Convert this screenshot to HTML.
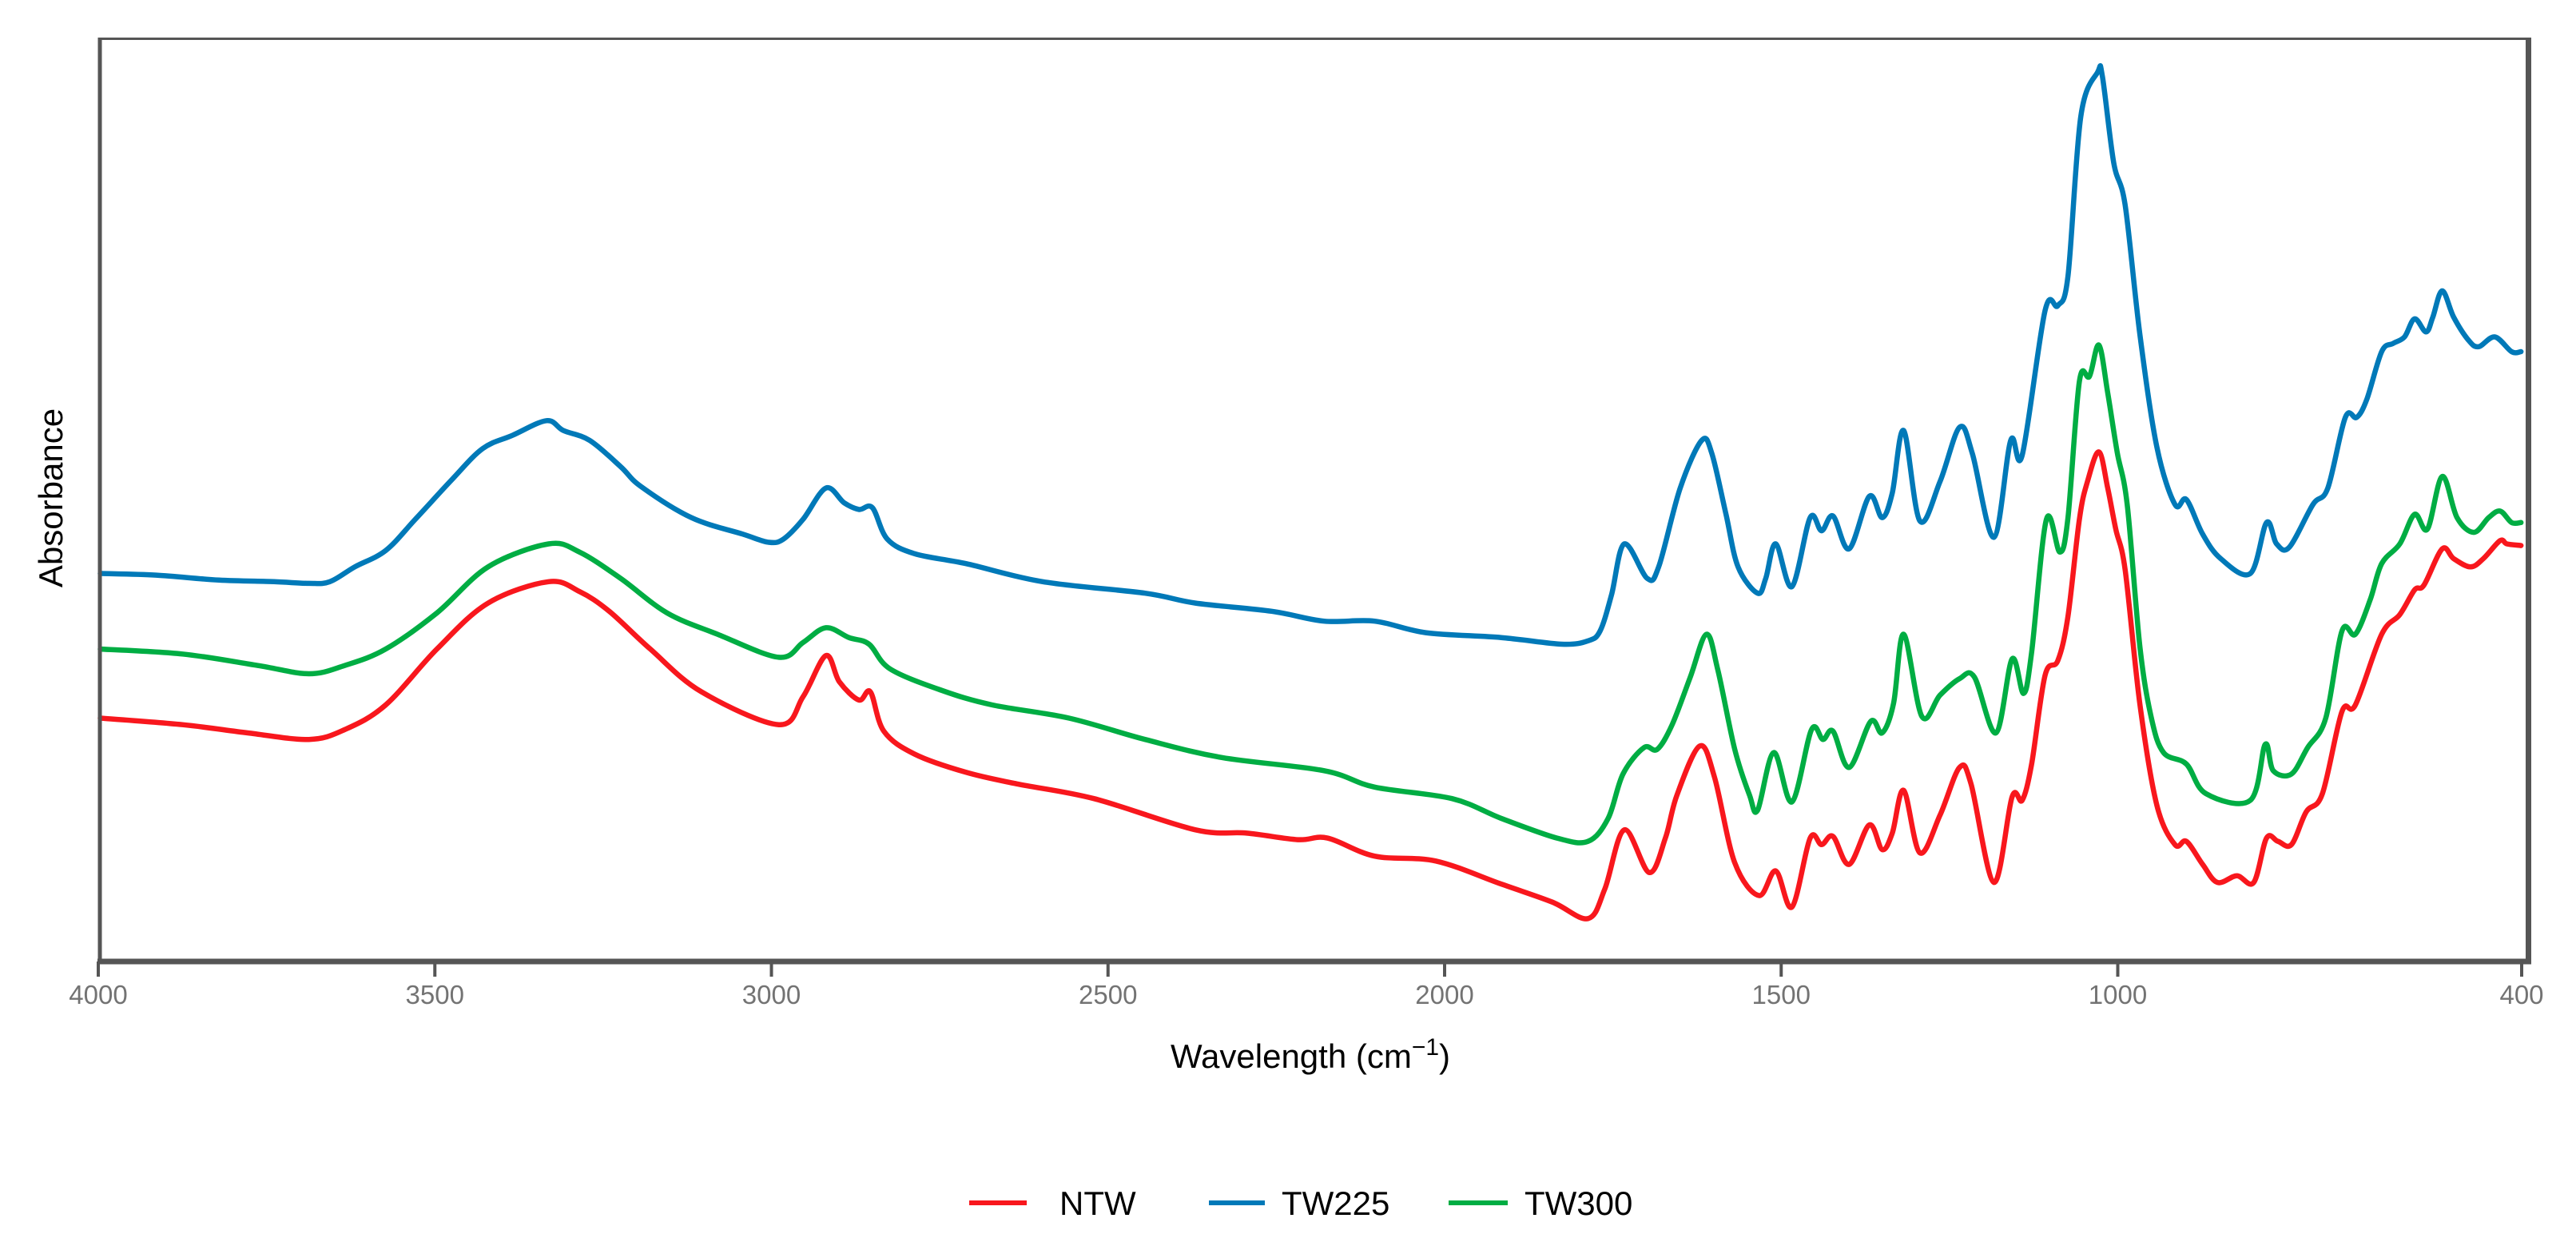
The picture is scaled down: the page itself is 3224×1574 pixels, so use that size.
<!DOCTYPE html>
<html>
<head>
<meta charset="utf-8">
<style>
html,body{margin:0;padding:0;background:#fff;}
svg{display:block;}
text{font-family:"Liberation Sans",Arial,sans-serif;}
</style>
</head>
<body>
<svg id="chart" width="3224" height="1574" viewBox="0 0 3224 1574" xmlns="http://www.w3.org/2000/svg">
  <rect x="0" y="0" width="3224" height="1574" fill="#ffffff"/>
  <g id="series"></g>
  <g id="axes"></g>
  <text x="1640" y="1336" font-size="42" text-anchor="middle" fill="#000">Wavelength (cm<tspan dy="-16" font-size="30">−1</tspan><tspan dy="16">)</tspan></text>
  <text x="0" y="0" font-size="42" text-anchor="middle" fill="#000" transform="translate(78,623) rotate(-90)">Absorbance</text>
  <g>
    <line x1="1213" y1="1505" x2="1285" y2="1505" stroke="#f8171d" stroke-width="6"/>
    <text x="1326" y="1520" font-size="42" fill="#000">NTW</text>
    <line x1="1513" y1="1505" x2="1583" y2="1505" stroke="#0079b8" stroke-width="6"/>
    <text x="1604" y="1520" font-size="42" fill="#000">TW225</text>
    <line x1="1813" y1="1505" x2="1887" y2="1505" stroke="#00ad43" stroke-width="6"/>
    <text x="1908" y="1520" font-size="42" fill="#000">TW300</text>
  </g>
</svg>
<script>
// ---- data ----
const xTicks = [4000, 3500, 3000, 2500, 2000, 1500, 1000, 400];

const tw225Wave = [3997,3914,3821,3739,3687,3656,3619,3573,3529,3475,3429,3385,3334,3309,3270,3224,3194,3119,3043,3004,2982,2953,2919,2892,2870,2850,2828,2787,2711,2597,2445,2370,2257,2179,2104,2028,1916,1826,1787,1769,1752,1733,1699,1682,1650,1618,1603,1582,1564,1535,1523,1508,1484,1457,1440,1423,1399,1369,1350,1335,1318,1294,1264,1235,1216,1184,1159,1142,1108,1089,1074,1055,1030,1023,1006,989,967,942,915,898,874,847,803,779,764,745,710,688,662,645,630,608,591,574,559,542,532,518,501,479,464,440,415,401];
const tw225Abs = [2.51,2.50,2.47,2.46,2.45,2.46,2.55,2.65,2.84,3.08,3.27,3.35,3.44,3.38,3.32,3.16,3.04,2.85,2.75,2.70,2.72,2.84,3.03,2.94,2.90,2.91,2.72,2.63,2.57,2.46,2.39,2.33,2.28,2.22,2.22,2.15,2.12,2.08,2.10,2.16,2.38,2.69,2.48,2.55,3.03,3.32,3.24,2.87,2.55,2.39,2.48,2.69,2.43,2.85,2.77,2.86,2.66,2.98,2.85,3.00,3.38,2.83,3.07,3.40,3.24,2.73,3.32,3.23,4.11,4.14,4.32,5.29,5.56,5.54,5.01,4.75,3.96,3.28,2.93,2.96,2.75,2.60,2.51,2.82,2.69,2.67,2.93,3.03,3.46,3.46,3.57,3.86,3.91,3.95,4.06,3.98,4.07,4.23,4.07,3.93,3.89,3.95,3.86,3.86];

const tw300Wave = [3997,3875,3763,3687,3634,3573,3497,3421,3331,3285,3224,3155,3080,2989,2953,2919,2885,2855,2824,2748,2672,2558,2445,2331,2179,2104,1989,1916,1833,1787,1757,1735,1704,1684,1662,1635,1611,1594,1569,1547,1535,1511,1484,1455,1438,1423,1399,1367,1350,1333,1318,1291,1264,1235,1213,1181,1157,1140,1128,1106,1086,1074,1057,1042,1028,1015,1001,986,967,950,932,898,869,803,781,769,742,718,691,667,647,625,608,581,559,540,518,496,471,449,432,415,401];
const tw300Abs = [2.05,2.02,1.95,1.90,1.95,2.05,2.27,2.55,2.69,2.64,2.48,2.27,2.14,2.00,2.09,2.18,2.12,2.08,1.93,1.80,1.71,1.63,1.50,1.39,1.31,1.21,1.14,1.02,0.90,0.88,1.02,1.29,1.45,1.44,1.59,1.88,2.14,1.92,1.44,1.16,1.07,1.42,1.12,1.56,1.50,1.55,1.33,1.61,1.54,1.72,2.14,1.64,1.77,1.87,1.88,1.54,1.99,1.78,2.03,2.84,2.64,2.85,3.68,3.71,3.90,3.61,3.25,2.93,2.06,1.63,1.42,1.35,1.17,1.13,1.47,1.31,1.29,1.45,1.63,2.16,2.14,2.35,2.57,2.69,2.87,2.78,3.10,2.85,2.76,2.85,2.89,2.82,2.82];

const ntwWave = [3997,3875,3778,3687,3634,3573,3497,3421,3331,3285,3241,3180,3104,2989,2953,2919,2899,2870,2853,2833,2787,2711,2636,2521,2370,2294,2218,2174,2104,2013,1916,1840,1787,1762,1733,1696,1672,1655,1621,1599,1569,1533,1508,1484,1457,1440,1423,1399,1369,1350,1335,1318,1294,1264,1235,1218,1184,1157,1142,1128,1108,1089,1074,1057,1045,1028,1015,1003,989,967,942,915,898,874,852,823,798,779,762,742,720,696,667,647,608,581,559,545,518,501,476,457,432,422,401];
const ntwAbs = [1.63,1.59,1.54,1.50,1.56,1.71,2.05,2.33,2.46,2.40,2.28,2.05,1.79,1.59,1.76,2.01,1.85,1.74,1.79,1.55,1.41,1.30,1.23,1.14,0.95,0.93,0.89,0.90,0.79,0.76,0.62,0.51,0.41,0.59,0.95,0.69,0.90,1.16,1.46,1.27,0.75,0.55,0.70,0.48,0.90,0.86,0.91,0.74,0.98,0.83,0.93,1.19,0.81,1.04,1.33,1.23,0.63,1.15,1.13,1.35,1.89,1.98,2.25,2.84,3.07,3.25,3.03,2.78,2.53,1.71,1.10,0.86,0.88,0.74,0.63,0.67,0.63,0.90,0.88,0.86,1.06,1.17,1.67,1.71,2.14,2.26,2.41,2.44,2.66,2.60,2.55,2.60,2.71,2.69,2.68];

// ---- scales ----
const X0 = 123, X1 = 3156, W0 = 4000, W1 = 400;
function xScale(w){ return X0 + (W0 - w) * (X1 - X0) / (W0 - W1); }
function yScale(a){ return 1233.6 - 205.6 * a; }

const NS = "http://www.w3.org/2000/svg";
const seriesG = document.getElementById('series');
const axesG = document.getElementById('axes');

function drawSeries(waves, vals, color, name){
  const pts = waves.map((w, i) => [xScale(w), yScale(vals[i])]);
  let d = 'M' + pts[0][0].toFixed(1) + ',' + pts[0][1].toFixed(1);
  for (let i = 0; i < pts.length - 1; i++){
    const p0 = pts[Math.max(0, i - 1)], p1 = pts[i], p2 = pts[i + 1], p3 = pts[Math.min(pts.length - 1, i + 2)];
    const c1x = p1[0] + (p2[0] - p0[0]) / 6, c1y = p1[1] + (p2[1] - p0[1]) / 6;
    const c2x = p2[0] - (p3[0] - p1[0]) / 6, c2y = p2[1] - (p3[1] - p1[1]) / 6;
    d += 'C' + c1x.toFixed(1) + ',' + c1y.toFixed(1) + ' ' + c2x.toFixed(1) + ',' + c2y.toFixed(1) + ' ' + p2[0].toFixed(1) + ',' + p2[1].toFixed(1);
  }
  const p = document.createElementNS(NS, 'path');
  p.setAttribute('d', d);
  p.setAttribute('fill', 'none');
  p.setAttribute('stroke', color);
  p.setAttribute('stroke-width', '6.5');
  p.setAttribute('stroke-linejoin', 'round');
  p.setAttribute('stroke-linecap', 'round');
  
  
  seriesG.appendChild(p);
}
drawSeries(ntwWave, ntwAbs, '#f8171d', 'series-ntw');
drawSeries(tw225Wave, tw225Abs, '#0079b8', 'series-tw225');
drawSeries(tw300Wave, tw300Abs, '#00ad43', 'series-tw300');

// ---- frame ----
function mkLine(x1,y1,x2,y2,w,name){
  const l = document.createElementNS(NS,'line');
  l.setAttribute('x1',x1); l.setAttribute('y1',y1);
  l.setAttribute('x2',x2); l.setAttribute('y2',y2);
  l.setAttribute('stroke','#555555');
  l.setAttribute('stroke-width',w);
  
  
  axesG.appendChild(l);
}
mkLine(123, 48.5, 3165, 48.5, 3, 'plot-top-border');
mkLine(3164.5, 47, 3164.5, 1206, 7, 'plot-right-border');
mkLine(125, 47, 125, 1206, 5, 'y-axis-line');
mkLine(122, 1203, 3168, 1203, 7, 'x-axis-line');

xTicks.forEach(t => {
  const x = xScale(t);
  const tk = document.createElementNS(NS,'line');
  tk.setAttribute('x1', x); tk.setAttribute('x2', x);
  tk.setAttribute('y1', 1203); tk.setAttribute('y2', 1222);
  tk.setAttribute('stroke', '#555555');
  tk.setAttribute('stroke-width', '4');
  
  
  axesG.appendChild(tk);
  const lb = document.createElementNS(NS,'text');
  lb.setAttribute('x', x);
  lb.setAttribute('y', 1256);
  lb.setAttribute('font-size', '33');
  lb.setAttribute('text-anchor', 'middle');
  lb.setAttribute('fill', '#737373');
  
  
  lb.textContent = t;
  axesG.appendChild(lb);
});
</script>
</body>
</html>
